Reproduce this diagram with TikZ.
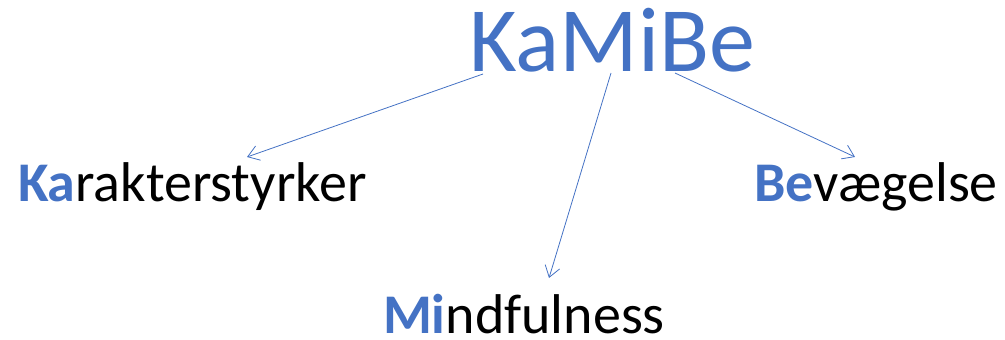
\documentclass[tikz,border=0pt]{standalone}
\usepackage{fontspec}
\setmainfont{Carlito}
\usetikzlibrary{arrows.meta}
\definecolor{kblue}{HTML}{4472C4}
\begin{document}
\begin{tikzpicture}[x=1pt,y=1pt,
  lbl/.style={anchor=base west,inner sep=0pt,outer sep=0pt,font=\fontsize{56}{60}\selectfont},
  conn/.style={draw=kblue,line width=0.8pt,-{Straight Barb[length=11pt,width=15pt,line width=0.8pt]}}]
\useasboundingbox (0,0) rectangle (1005,340);
\node[anchor=base west,inner sep=0pt,text=kblue,font=\fontsize{92}{100}\selectfont] (title) at (469,268) {KaMiBe};
\node[lbl] (ka) at (18,138) {\textcolor{kblue}{\textbf{Ka}}rakterstyrker};
\node[lbl] (mi) at (383,6) {\textcolor{kblue}{\textbf{Mi}}ndfulness};
\node[lbl] (be) at (754,138) {\textcolor{kblue}{\textbf{Be}}vægelse};
\coordinate (s1) at (483,266);
\coordinate (s2) at (611,267);
\coordinate (s3) at (675,267);
\coordinate (e1) at (247,183);
\coordinate (e2) at (549,62);
\coordinate (e3) at (855,183);
\draw[conn] (s1) -- (e1);
\draw[conn] (s2) -- (e2);
\draw[conn] (s3) -- (e3);
\end{tikzpicture}
\end{document}
